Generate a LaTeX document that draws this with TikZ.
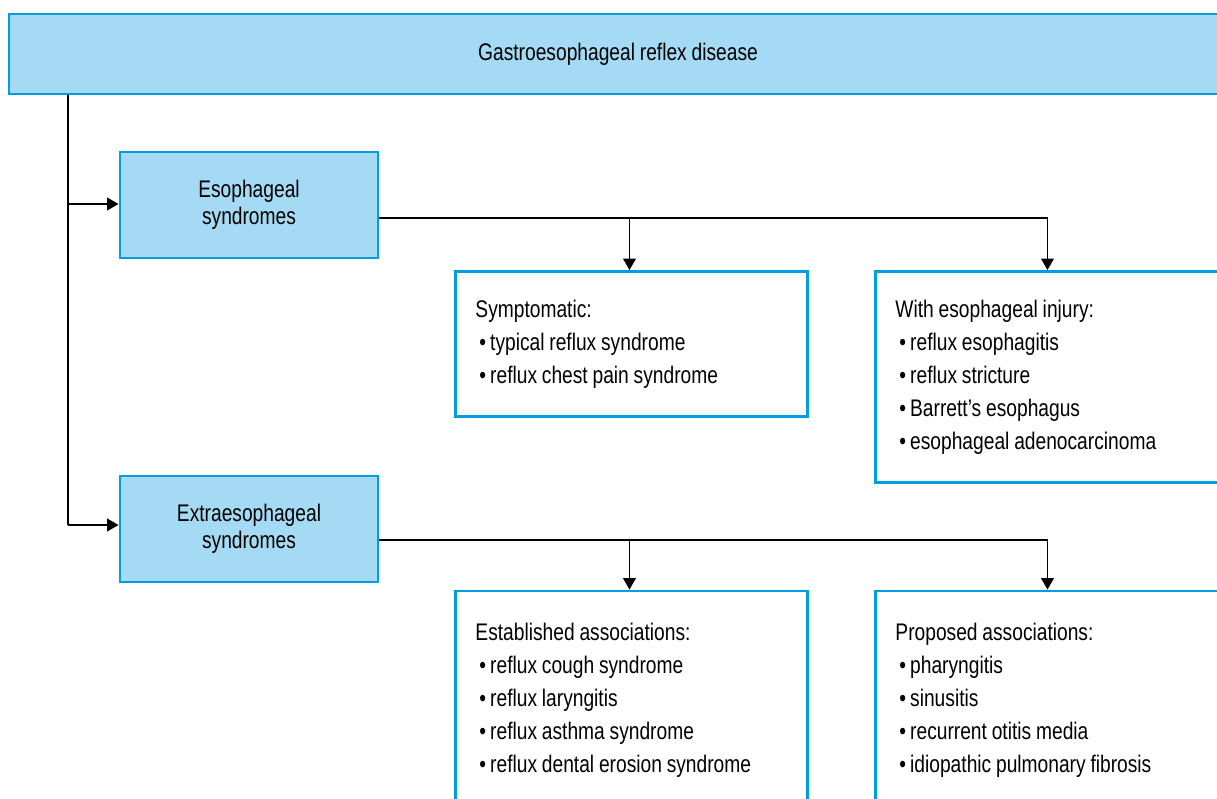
\documentclass[tikz,border=0pt]{standalone}
\usepackage{fontspec}
\setmainfont[FakeStretch=0.8,WordSpace=0.9]{Liberation Sans}
\usetikzlibrary{arrows.meta}
\definecolor{boxfill}{RGB}{164,218,243}
\definecolor{boxline}{RGB}{0,158,224}
\newcommand{\bul}{\,\textbullet\,}

\begin{document}
\begin{tikzpicture}[x=0.75pt,y=-0.75pt,
  font=\fontsize{18}{24.75}\selectfont,
  head/.style={draw=boxline,fill=boxfill,line width=2.2pt,align=center,
    inner sep=0pt,font=\fontsize{18}{20.25}\selectfont},
  list/.style={draw=boxline,fill=white,line width=2.2pt,align=flush left,
    anchor=west,inner xsep=15pt,text width=234pt,minimum width=264pt},
  link/.style={line width=1pt,-{Triangle[length=8.5pt,width=9.5pt]}}]
  \useasboundingbox (0,0) rectangle (1217,799);

  % boxes
  \path (618,54) node[head,minimum width=913.5pt,minimum height=60pt] (gerd)
    {Gastroesophageal reflex disease};
  \path (249,205) node[head,minimum width=193.5pt,minimum height=79.5pt] (esoph)
    {Esophageal\\syndromes};
  \path (249,529) node[head,minimum width=193.5pt,minimum height=79.5pt] (extra)
    {Extraesophageal\\syndromes};
  \path (454,344) node[list,minimum height=108.75pt] (sympt)
    {Symptomatic:\\
     \bul typical reflux syndrome\\
     \bul reflux chest pain syndrome};
  \path (874,377) node[list,minimum height=158.25pt] (injury)
    {With esophageal injury:\\
     \bul reflux esophagitis\\
     \bul reflux stricture\\
     \bul Barrett’s esophagus\\
     \bul esophageal adenocarcinoma};
  \path (454,700) node[list,minimum height=163.5pt] (estab)
    {Established associations:\\
     \bul reflux cough syndrome\\
     \bul reflux laryngitis\\
     \bul reflux asthma syndrome\\
     \bul reflux dental erosion syndrome};
  \path (874,700) node[list,minimum height=163.5pt] (propos)
    {Proposed associations:\\
     \bul pharyngitis\\
     \bul sinusitis\\
     \bul recurrent otitis media\\
     \bul idiopathic pulmonary fibrosis};

  % connectors
  \coordinate (j1) at (68,204);
  \coordinate (j2) at (68,525);
  \draw[line width=1pt] (gerd.south -| j1) -- (j2);
  \draw[link] (j1) -- (j1 -| esoph.west);
  \draw[link] (j2) -- (j2 -| extra.west);
  \draw[link] ([yshift=-9.75pt]esoph.east) -| ([xshift=-1.5pt]sympt.north);
  \draw[link] ([yshift=-9.75pt]esoph.east) -| ([xshift=-3pt]injury.north);
  \draw[link] ([yshift=-8.25pt]extra.east) -| ([xshift=-1.5pt]estab.north);
  \draw[link] ([yshift=-8.25pt]extra.east) -| ([xshift=-3pt]propos.north);
\end{tikzpicture}
\end{document}
